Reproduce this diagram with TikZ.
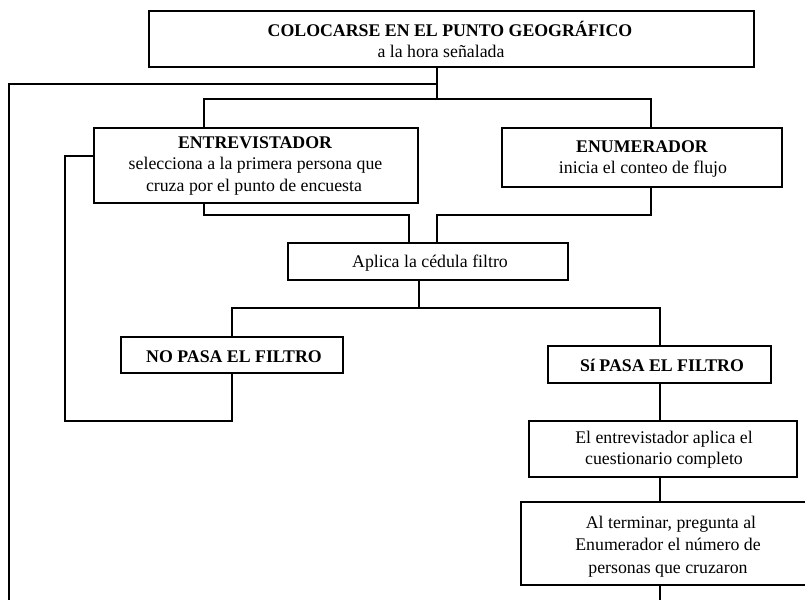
\documentclass[tikz,border=0pt]{standalone}
\usepackage{fontspec}
\setmainfont{Liberation Serif}
\begin{document}
\begin{tikzpicture}[x=1pt,y=-1pt,
  box/.style={draw, line width=2pt, inner sep=0pt, outer sep=0pt},
  conn/.style={line width=2pt},
  tl/.style={anchor=base, inner sep=0pt, font=\fontsize{17.8}{20}\selectfont},
  tb/.style={anchor=base, inner sep=0pt, font=\fontsize{17.8}{20}\selectfont\bfseries}]
\clip (0,0) rectangle (805,600);
\fill[white] (0,0) rectangle (805,600);
% boxes
\node[box, minimum width=605pt, minimum height=56pt] (top) at (451.5,39) {};
\node[box, minimum width=324pt, minimum height=75pt] (entr) at (256,165.5) {};
\node[box, minimum width=280pt, minimum height=59pt] (enum) at (642,157.5) {};
\node[box, minimum width=280pt, minimum height=37pt] (aplica) at (428,261.5) {};
\node[box, minimum width=222pt, minimum height=36pt] (nopasa) at (232,355) {};
\node[box, minimum width=223pt, minimum height=37pt] (sipasa) at (659.5,364.5) {};
\node[box, minimum width=268pt, minimum height=56pt] (cuest) at (663,449) {};
\node[box, minimum width=300pt, minimum height=83pt] (final) at (671,543.5) {};
% texts
\node[tb] (t1a) at (450,36) {COLOCARSE EN EL PUNTO GEOGRÁFICO};
\node[tl] (t1b) at (441,57) {a la hora señalada};
\node[tb] (t2a) at (255,148) {ENTREVISTADOR};
\node[tl] (t2b) at (255.5,169) {selecciona a la primera persona que};
\node[tl] (t2c) at (254,191) {cruza por el punto de encuesta};
\node[tb] (t3a) at (642,152) {ENUMERADOR};
\node[tl] (t3b) at (643,173) {inicia el conteo de flujo};
\node[tl] (t4) at (430,267) {Aplica la cédula filtro};
\node[tb] (t5) at (234,362) {NO PASA EL FILTRO};
\node[tb] (t6) at (662,371) {Sí PASA EL FILTRO};
\node[tl] (t7a) at (664,443) {El entrevistador aplica el};
\node[tl] (t7b) at (664,464) {cuestionario completo};
\node[tl] (t8a) at (671,528) {Al terminar, pregunta al};
\node[tl] (t8b) at (668,550) {Enumerador el número de};
\node[tl] (t8c) at (668,573) {personas que cruzaron};
% junctions
\coordinate (j1) at (437,84);
\coordinate (j2) at (437,99);
\coordinate (lb) at (9,600);
\coordinate (a1) at (204,99);
\coordinate (a2) at (651,99);
\coordinate (b1) at (204,215);
\coordinate (b2) at (409,215);
\coordinate (b3) at (651,215);
\coordinate (b4) at (437,215);
\coordinate (c0) at (419,308);
\coordinate (c2) at (660,308);
\coordinate (d1) at (232,421);
\coordinate (d2) at (65,421);
\coordinate (d3) at (65,156);
\coordinate (e1) at (660,600);
% connectors
\draw[conn] (top.south -| j2) -- (j2);
\draw[conn] (j1) -| (lb);
\draw[conn] (entr.north -| a1) |- (a2) -- (enum.north -| a2);
\draw[conn] (entr.south -| b1) -- (b1) -- (b2) -- (aplica.north -| b2);
\draw[conn] (enum.south -| b3) -- (b3) -- (b4) -- (aplica.north -| b4);
\draw[conn] (aplica.south -| c0) -- (c0);
\draw[conn] (nopasa.north) |- (c2) -- (sipasa.north -| c2);
\draw[conn] (nopasa.south) -- (d1) -- (d2) -- (d3) -- (entr.west |- d3);
\draw[conn] (sipasa.south -| c2) -- (cuest.north -| c2);
\draw[conn] (cuest.south -| c2) -- (final.north -| c2);
\draw[conn] (final.south -| e1) -- (e1);
\end{tikzpicture}
\end{document}
